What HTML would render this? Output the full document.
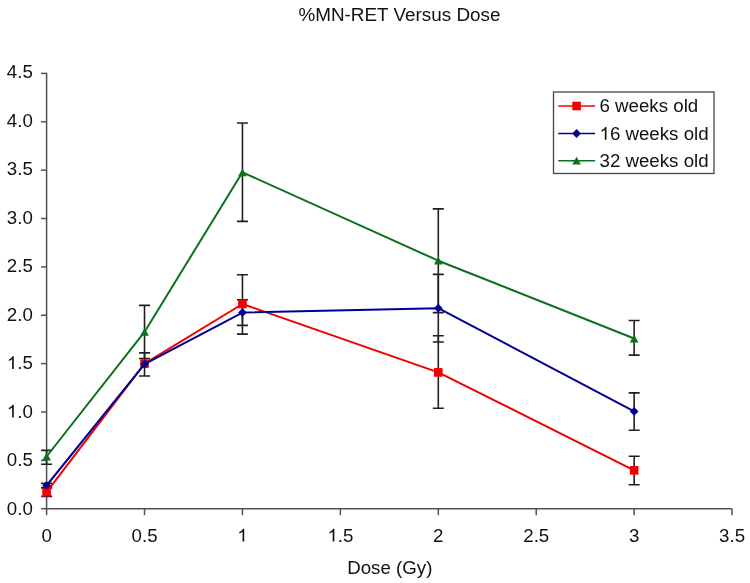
<!DOCTYPE html><html><head><meta charset="utf-8"><style>html,body{margin:0;padding:0;background:#fff;overflow:hidden}svg{display:block}text{font-family:"Liberation Sans",sans-serif}</style></head><body>
<div style="will-change:transform;width:750px;height:583px"><svg width="750" height="583" viewBox="0 0 750 583">
<rect width="750" height="583" fill="#fff"/>
<text transform="translate(399.50,20.70) scale(1.01,1)" text-anchor="middle" font-size="18.7" fill="#111">%MN-RET Versus Dose</text>
<g stroke="#525252" stroke-width="1.5" fill="none">
<path d="M46.6,72.66V508.7"/>
<path d="M45.85,508.7H732.08"/>
<path d="M41,508.70H46.6"/>
<path d="M41,460.33H46.6"/>
<path d="M41,411.97H46.6"/>
<path d="M41,363.61H46.6"/>
<path d="M41,315.24H46.6"/>
<path d="M41,266.88H46.6"/>
<path d="M41,218.51H46.6"/>
<path d="M41,170.14H46.6"/>
<path d="M41,121.78H46.6"/>
<path d="M41,73.41H46.6"/>
<path d="M46.60,508.7V515.2"/>
<path d="M144.53,508.7V515.2"/>
<path d="M242.45,508.7V515.2"/>
<path d="M340.38,508.7V515.2"/>
<path d="M438.30,508.7V515.2"/>
<path d="M536.23,508.7V515.2"/>
<path d="M634.15,508.7V515.2"/>
<path d="M732.08,508.7V515.2"/>
</g>
<text transform="translate(32.80,514.50) scale(1.0,1)" text-anchor="end" font-size="18.7" fill="#111">0.0</text>
<text transform="translate(32.80,466.03) scale(1.0,1)" text-anchor="end" font-size="18.7" fill="#111">0.5</text>
<path transform="translate(6.80,417.57) scale(0.00913,-0.00913)" d="M763,0L583,0L583,1098Q521,1039 469,1009Q417,979 343,945Q293,920 222,890L222,1057Q357,1124 415,1173Q486,1221 542,1270Q592,1318 618,1409L763,1409Z" fill="#111"/><text transform="translate(17.20,417.57) scale(1.0,1)" font-size="18.7" fill="#111" xml:space="preserve">.0</text>
<path transform="translate(6.80,369.11) scale(0.00913,-0.00913)" d="M763,0L583,0L583,1098Q521,1039 469,1009Q417,979 343,945Q293,920 222,890L222,1057Q357,1124 415,1173Q486,1221 542,1270Q592,1318 618,1409L763,1409Z" fill="#111"/><text transform="translate(17.20,369.11) scale(1.0,1)" font-size="18.7" fill="#111" xml:space="preserve">.5</text>
<text transform="translate(32.80,320.64) scale(1.0,1)" text-anchor="end" font-size="18.7" fill="#111">2.0</text>
<text transform="translate(32.80,272.17) scale(1.0,1)" text-anchor="end" font-size="18.7" fill="#111">2.5</text>
<text transform="translate(32.80,223.71) scale(1.0,1)" text-anchor="end" font-size="18.7" fill="#111">3.0</text>
<text transform="translate(32.80,175.25) scale(1.0,1)" text-anchor="end" font-size="18.7" fill="#111">3.5</text>
<text transform="translate(32.80,126.78) scale(1.0,1)" text-anchor="end" font-size="18.7" fill="#111">4.0</text>
<text transform="translate(32.80,78.31) scale(1.0,1)" text-anchor="end" font-size="18.7" fill="#111">4.5</text>
<text transform="translate(46.60,541.60) scale(1.0,1)" text-anchor="middle" font-size="18.7" fill="#111">0</text>
<text transform="translate(144.53,541.60) scale(1.0,1)" text-anchor="middle" font-size="18.7" fill="#111">0.5</text>
<path transform="translate(237.25,541.60) scale(0.00913,-0.00913)" d="M763,0L583,0L583,1098Q521,1039 469,1009Q417,979 343,945Q293,920 222,890L222,1057Q357,1124 415,1173Q486,1221 542,1270Q592,1318 618,1409L763,1409Z" fill="#111"/>
<path transform="translate(327.38,541.60) scale(0.00913,-0.00913)" d="M763,0L583,0L583,1098Q521,1039 469,1009Q417,979 343,945Q293,920 222,890L222,1057Q357,1124 415,1173Q486,1221 542,1270Q592,1318 618,1409L763,1409Z" fill="#111"/><text transform="translate(337.78,541.60) scale(1.0,1)" font-size="18.7" fill="#111" xml:space="preserve">.5</text>
<text transform="translate(438.30,541.60) scale(1.0,1)" text-anchor="middle" font-size="18.7" fill="#111">2</text>
<text transform="translate(536.23,541.60) scale(1.0,1)" text-anchor="middle" font-size="18.7" fill="#111">2.5</text>
<text transform="translate(634.15,541.60) scale(1.0,1)" text-anchor="middle" font-size="18.7" fill="#111">3</text>
<text transform="translate(732.08,541.60) scale(1.0,1)" text-anchor="middle" font-size="18.7" fill="#111">3.5</text>
<text transform="translate(389.80,573.60) scale(1.0,1)" text-anchor="middle" font-size="18.7" fill="#111">Dose (Gy)</text>
<g stroke="#202020" stroke-width="1.6" fill="none"><path d="M46.60,488.0V496.4M41.10,488.0H52.10M41.10,496.4H52.10"/><path d="M242.45,274.8V334.1M236.95,274.8H247.95M236.95,334.1H247.95"/><path d="M438.30,335.8V408.2M432.80,335.8H443.80M432.80,408.2H443.80"/><path d="M634.15,456.2V484.8M628.65,456.2H639.65M628.65,484.8H639.65"/></g>
<g stroke="#202020" stroke-width="1.6" fill="none"><path d="M46.60,483.4V487.6M41.10,483.4H52.10M41.10,487.6H52.10"/><path d="M144.53,352.9V376.0M139.03,352.9H150.03M139.03,376.0H150.03"/><path d="M242.45,299.8V325.4M236.95,299.8H247.95M236.95,325.4H247.95"/><path d="M438.30,274.4V342.0M432.80,274.4H443.80M432.80,342.0H443.80"/><path d="M634.15,392.9V430.3M628.65,392.9H639.65M628.65,430.3H639.65"/></g>
<g stroke="#202020" stroke-width="1.6" fill="none"><path d="M46.60,450.4V464.2M41.10,450.4H52.10M41.10,464.2H52.10"/><path d="M144.53,305.4V358.5M139.03,305.4H150.03M139.03,358.5H150.03"/><path d="M242.45,123.0V221.4M236.95,123.0H247.95M236.95,221.4H247.95"/><path d="M438.30,208.9V312.6M432.80,208.9H443.80M432.80,312.6H443.80"/><path d="M634.15,320.5V355.1M628.65,320.5H639.65M628.65,355.1H639.65"/></g>
<polyline points="46.60,492.20 144.53,363.60 242.45,304.00 438.30,372.40 634.15,470.30" fill="none" stroke="#f00000" stroke-width="2" stroke-linejoin="round"/>
<rect x="42.30" y="487.90" width="8.60" height="8.60" fill="#f00000"/>
<rect x="140.22" y="359.30" width="8.60" height="8.60" fill="#f00000"/>
<rect x="238.15" y="299.70" width="8.60" height="8.60" fill="#f00000"/>
<rect x="434.00" y="368.10" width="8.60" height="8.60" fill="#f00000"/>
<rect x="629.85" y="466.00" width="8.60" height="8.60" fill="#f00000"/>
<polyline points="46.60,485.50 144.53,364.20 242.45,312.60 438.30,308.20 634.15,411.40" fill="none" stroke="#000094" stroke-width="2" stroke-linejoin="round"/>
<path d="M46.60,481.10L51.00,485.50L46.60,489.90L42.20,485.50Z" fill="#000094"/>
<path d="M144.53,359.80L148.93,364.20L144.53,368.60L140.12,364.20Z" fill="#000094"/>
<path d="M242.45,308.20L246.85,312.60L242.45,317.00L238.05,312.60Z" fill="#000094"/>
<path d="M438.30,303.80L442.70,308.20L438.30,312.60L433.90,308.20Z" fill="#000094"/>
<path d="M634.15,407.00L638.55,411.40L634.15,415.80L629.75,411.40Z" fill="#000094"/>
<polyline points="46.60,456.50 144.53,331.90 242.45,172.30 438.30,260.70 634.15,338.50" fill="none" stroke="#0c701c" stroke-width="2" stroke-linejoin="round"/>
<path d="M46.60,452.60L50.90,460.40L42.30,460.40Z" fill="#0c701c"/>
<path d="M144.53,328.00L148.83,335.80L140.22,335.80Z" fill="#0c701c"/>
<path d="M242.45,168.40L246.75,176.20L238.15,176.20Z" fill="#0c701c"/>
<path d="M438.30,256.80L442.60,264.60L434.00,264.60Z" fill="#0c701c"/>
<path d="M634.15,334.60L638.45,342.40L629.85,342.40Z" fill="#0c701c"/>
<rect x="553.5" y="92" width="160.5" height="81.5" fill="#fff" stroke="#444" stroke-width="1.3"/>
<path d="M558.2,106.0H595" stroke="#f00000" stroke-width="1.5"/>
<rect x="572.30" y="101.70" width="8.60" height="8.60" fill="#f00000"/>
<text transform="translate(599.50,112.30) scale(1.0,1)" text-anchor="start" font-size="18.7" fill="#111">6 weeks old</text>
<path d="M558.2,133.5H595" stroke="#000094" stroke-width="1.5"/>
<path d="M576.60,129.10L581.00,133.50L576.60,137.90L572.20,133.50Z" fill="#000094"/>
<path transform="translate(599.50,139.80) scale(0.00913,-0.00913)" d="M763,0L583,0L583,1098Q521,1039 469,1009Q417,979 343,945Q293,920 222,890L222,1057Q357,1124 415,1173Q486,1221 542,1270Q592,1318 618,1409L763,1409Z" fill="#111"/><text transform="translate(609.90,139.80) scale(1.0,1)" font-size="18.7" fill="#111" xml:space="preserve">6 weeks old</text>
<path d="M558.2,160.7H595" stroke="#0c701c" stroke-width="1.5"/>
<path d="M576.60,156.80L580.90,164.60L572.30,164.60Z" fill="#0c701c"/>
<text transform="translate(599.50,167.00) scale(1.0,1)" text-anchor="start" font-size="18.7" fill="#111">32 weeks old</text>
</svg></div></body></html>
